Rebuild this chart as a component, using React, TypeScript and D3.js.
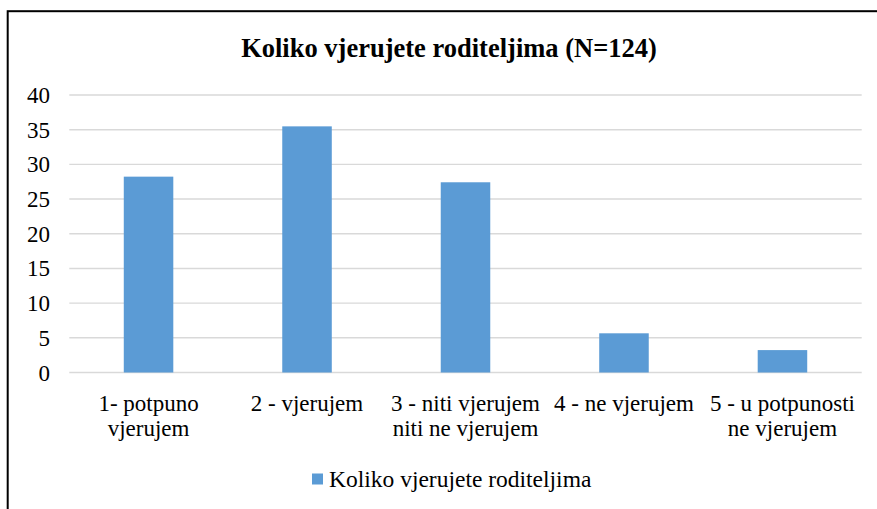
import React from "react";
import * as d3 from "d3";

const title = "Koliko vjerujete roditeljima (N=124)";
const seriesName = "Koliko vjerujete roditeljima";
const categories = [
  "1- potpuno\nvjerujem",
  "2 - vjerujem",
  "3 - niti vjerujem\nniti ne vjerujem",
  "4 - ne vjerujem",
  "5 - u potpunosti\nne vjerujem",
];
const values = [28.23, 35.48, 27.42, 5.65, 3.23];
const yTicks = [0, 5, 10, 15, 20, 25, 30, 35, 40];

const W = 877;
const H = 509;
const BLUE = "#5b9bd5";

export default function App() {
  const left = 69.3;
  const right = 861.7;
  const top = 95;
  const bottom = 372.5;

  const x = d3
    .scaleBand<string>()
    .domain(categories)
    .range([left, right])
    .paddingInner(0.6875)
    .paddingOuter(0.34375);
  const y = d3.scaleLinear().domain([0, 40]).range([bottom, top]);

  const txt: React.CSSProperties = { fontFamily: '"Liberation Serif"' };

  return (
    <div style={{ position: "fixed", left: 0, top: 0, width: W, height: H, background: "#fff" }}>
      <svg width={W} height={H} style={{ display: "block" }}>
        <rect x={0} y={0} width={W} height={H} fill="#fff" />
        <rect x={7.7} y={11.2} width={W + 20} height={H + 20} fill="none" stroke="#000" strokeWidth={2} />
        <text x={449} y={56.5} textAnchor="middle" fontSize={26.5} fontWeight="bold" fill="#000" style={txt}>
          {title}
        </text>
        {yTicks.map((t) => (
          <g key={t}>
            <line x1={left} x2={right} y1={y(t)} y2={y(t)} stroke="#d9d9d9" strokeWidth={1.4} />
            <text x={50} y={y(t)} dy="0.35em" textAnchor="end" fontSize={23} fill="#000" style={txt}>
              {t}
            </text>
          </g>
        ))}
        {categories.map((c, i) => (
          <rect
            key={c}
            x={x(c)}
            y={y(values[i])}
            width={x.bandwidth()}
            height={y(0) - y(values[i])}
            fill={BLUE}
          />
        ))}
        {categories.map((c) => {
          const cx = (x(c) as number) + x.bandwidth() / 2;
          return (
            <text key={c} x={cx} y={411} textAnchor="middle" fontSize={23} fill="#000" style={txt}>
              {c.split("\n").map((line, j) => (
                <tspan key={j} x={cx} dy={j === 0 ? 0 : 25}>
                  {line}
                </tspan>
              ))}
            </text>
          );
        })}
        <rect x={312} y={473.5} width={11} height={11} fill={BLUE} />
        <text x={329} y={487} fontSize={23.5} fill="#000" style={txt}>
          {seriesName}
        </text>
      </svg>
    </div>
  );
}
